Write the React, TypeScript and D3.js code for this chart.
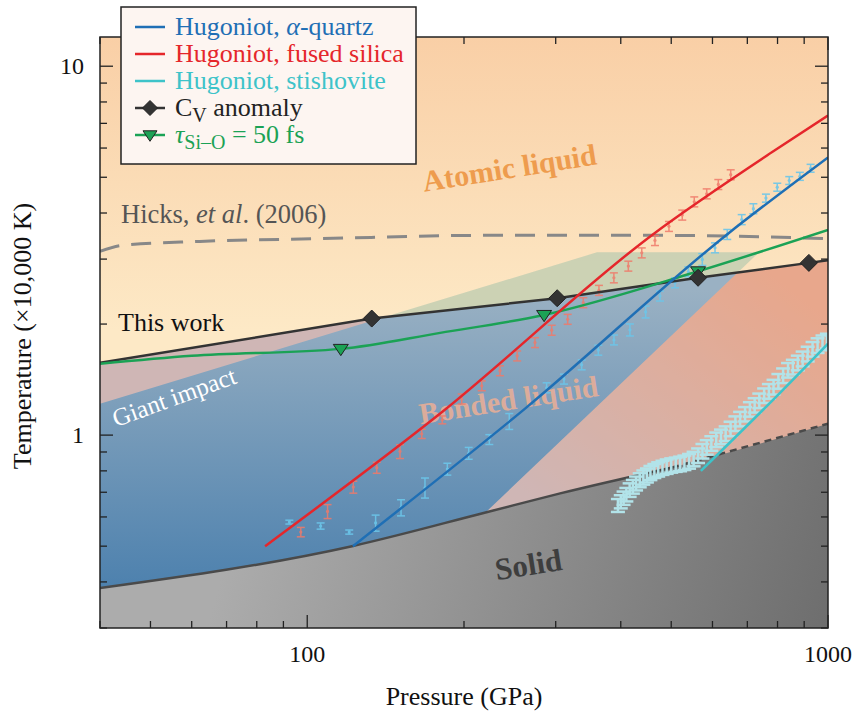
import React from 'react';
import * as d3 from 'd3';

// axis ranges: pressure (GPa), temperature (x10,000 K)
const pDomain = [40, 1000];
const tDomain = [0.3, 12];
const pTickLabels = [100, 1000];
const tTickLabels = [1, 10];

// Hugoniot curves
const quartzP = [122.4, 262, 640, 1000];
const quartzT = [0.5, 1.18, 3.5, 5.66];
const silicaP = [83, 180, 461, 784, 1000];
const silicaT = [0.5, 1.144, 3.5, 5.87, 7.35];
const stishP = [570, 808, 1000];
const stishT = [0.8, 1.3, 1.77];

// Cv anomaly ("This work")
const cvLineP = [40, 133, 302, 563, 919, 1000];
const cvLineT = [1.57, 2.07, 2.35, 2.67, 2.93, 2.98];
const cvMarkP = [133, 302, 563, 919];
const cvMarkT = [2.07, 2.35, 2.67, 2.93];

// tau(Si-O) = 50 fs
const tauLineP = [40, 60, 116, 180, 285, 563, 1000];
const tauLineT = [1.56, 1.64, 1.713, 1.893, 2.117, 2.78, 3.6];
const tauMarkP = [116, 285, 563];
const tauMarkT = [1.713, 2.117, 2.78];

// Hicks et al. (2006)
const hicksP = [40, 44.3, 62.2, 107, 224, 455, 1000];
const hicksT = [3.15, 3.27, 3.35, 3.41, 3.48, 3.48, 3.41];

// melting line (solid part, then dashed part)
const meltP = [40, 121.9, 220, 306, 502];
const meltT = [0.385, 0.5, 0.617, 0.695, 0.817];
const meltDashP = [502, 1000];
const meltDashT = [0.817, 1.074];

// giant impact region outline
const giantP = [40, 360, 737, 220, 220, 40];
const giantT = [1.217, 3.13, 3.13, 0.617, 0.3, 0.3];

// experimental data: fused silica
const silicaDataP = [97.2, 109.4, 122.6, 136, 150.7, 165.9, 181.7, 198, 216.3, 234.5, 253, 273.7, 294.7, 316.3, 338.9, 363.2, 388, 413.6, 438.9, 465.3, 495, 525, 553.6, 584.9, 615.7, 650.4];
const silicaDataT = [0.546, 0.621, 0.723, 0.816, 0.903, 1.008, 1.1, 1.253, 1.361, 1.495, 1.64, 1.782, 1.925, 2.061, 2.286, 2.469, 2.67, 2.872, 3.12, 3.37, 3.68, 3.95, 4.29, 4.51, 4.78, 5.08];
const silicaErr = [0.016, 0.027, 0.027, 0.028, 0.039, 0.029, 0.027, 0.039, 0.042, 0.046, 0.051, 0.055, 0.06, 0.064, 0.071, 0.077, 0.083, 0.089, 0.097, 0.105, 0.114, 0.123, 0.133, 0.14, 0.149, 0.158];

// experimental data: alpha-quartz
const quartzDataP = [92.4, 106.1, 120.4, 135.3, 151.4, 168.3, 185.8, 204.2, 223.7, 244.3, 288.2, 311.2, 336.5, 362.2, 388.1, 416.5, 446.5, 475.7, 508.4, 539.3, 573.6, 606.8, 640.5, 682.8, 718.9, 760, 799, 842.5, 883, 926];
const quartzDataT = [0.581, 0.567, 0.546, 0.578, 0.636, 0.72, 0.809, 0.893, 0.973, 1.09, 1.344, 1.419, 1.551, 1.7, 1.812, 1.929, 2.158, 2.383, 2.588, 2.772, 2.994, 3.22, 3.5, 3.84, 4.11, 4.39, 4.7, 4.9, 5.03, 5.29];
const quartzErr = [0.007, 0.011, 0.007, 0.029, 0.032, 0.045, 0.03, 0.033, 0.03, 0.054, 0.042, 0.044, 0.048, 0.053, 0.056, 0.072, 0.08, 0.074, 0.08, 0.086, 0.11, 0.1, 0.109, 0.12, 0.128, 0.11, 0.117, 0.12, 0.125, 0.13];

// experimental data: stishovite
const stishDataP = [395, 400, 405, 410, 416, 422, 428, 435, 442, 449, 456, 464, 472, 481, 490, 500, 510, 520, 530, 541, 552, 563, 574, 585, 597, 610, 623, 636, 650, 664, 678, 693, 708, 723, 738, 754, 770, 786, 803, 820, 838, 856, 875, 894, 914, 934, 955, 976, 995];
const stishDataT = [0.645, 0.66, 0.675, 0.69, 0.71, 0.725, 0.74, 0.755, 0.768, 0.778, 0.79, 0.8, 0.808, 0.816, 0.822, 0.828, 0.832, 0.836, 0.842, 0.85, 0.862, 0.88, 0.905, 0.927, 0.95, 0.972, 0.99, 1.01, 1.04, 1.075, 1.106, 1.14, 1.175, 1.205, 1.24, 1.28, 1.315, 1.35, 1.4, 1.45, 1.5, 1.53, 1.57, 1.61, 1.66, 1.71, 1.75, 1.78, 1.8];
const stishErr = [0.026, 0.027, 0.028, 0.029, 0.03, 0.031, 0.032, 0.033, 0.034, 0.034, 0.035, 0.035, 0.036, 0.036, 0.037, 0.037, 0.037, 0.038, 0.038, 0.039, 0.039, 0.04, 0.041, 0.042, 0.043, 0.044, 0.045, 0.046, 0.047, 0.049, 0.05, 0.051, 0.053, 0.054, 0.056, 0.058, 0.06, 0.062, 0.064, 0.066, 0.068, 0.07, 0.072, 0.074, 0.076, 0.078, 0.08, 0.082, 0.083];

const BLUE = '#1f6fb5';
const RED = '#e5262b';
const TEAL = '#3ec3c9';
const GREEN = '#1ba255';
const FONT = "'Liberation Serif', serif";

export default function App() {
  const left = 100, right = 828, top = 37, bottom = 628;
  const x = d3.scaleLog().domain(pDomain).range([left, right]);
  const y = d3.scaleLog().domain(tDomain).range([bottom, top]);

  const path = (P: number[], T: number[], curve: any = d3.curveLinear) =>
    d3.line<number>().x(i => x(P[i])).y(i => y(T[i])).curve(curve)(P.map((_, i) => i)) as string;

  const corners = (a: number, b: number) => `L${x(pDomain[1])},${y(a)}L${x(pDomain[0])},${y(b)}Z`;
  const belowCv = path(cvLineP, cvLineT) + corners(tDomain[0], tDomain[0]);
  const aboveCv = path(cvLineP, cvLineT) + corners(tDomain[1], tDomain[1]);
  const meltAllP = meltP.concat(meltDashP.slice(1));
  const meltAllT = meltT.concat(meltDashT.slice(1));
  const solidArea = path(meltAllP, meltAllT, d3.curveMonotoneX) + corners(tDomain[0], tDomain[0]);
  const giant = path(giantP, giantT) + 'Z';

  const xTicks = x.ticks();
  const yTicks = y.ticks();
  const isMajor = (v: number) => Math.abs(Math.log10(v) - Math.round(Math.log10(v))) < 1e-6;
  const tf = { fontFamily: FONT };

  const errorBars = (P: number[], T: number[], E: number[], color: string, cap: number, w: number, dot: boolean, op: number) => (
    <g stroke={color} strokeWidth={w} opacity={op} fill={color}>
      {P.map((p, i) => {
        const cx = x(p), y1 = y(T[i] - E[i]), y2 = y(T[i] + E[i]);
        return (
          <g key={i}>
            <line x1={cx} x2={cx} y1={y1} y2={y2} />
            <line x1={cx - cap / 2} x2={cx + cap / 2} y1={y1} y2={y1} />
            <line x1={cx - cap / 2} x2={cx + cap / 2} y1={y2} y2={y2} />
            {dot && <circle cx={cx} cy={y(T[i])} r={1.6} stroke="none" />}
          </g>
        );
      })}
    </g>
  );

  const diamond = (cx: number, cy: number, s: number, k: any) => (
    <path key={k} d={`M${cx},${cy - s}L${cx + s},${cy}L${cx},${cy + s}L${cx - s},${cy}Z`} fill="#333" stroke="#222" strokeWidth={1} />
  );
  const triangle = (cx: number, cy: number, s: number, k: any) => (
    <path key={k} d={`M${cx - s},${cy - s * 0.6}L${cx + s},${cy - s * 0.6}L${cx},${cy + s * 0.9}Z`} fill={GREEN} stroke="#222" strokeWidth={1} />
  );

  const legendRows = [
    { color: BLUE, kind: 'line' },
    { color: RED, kind: 'line' },
    { color: TEAL, kind: 'line' },
    { color: '#333', kind: 'diamond' },
    { color: GREEN, kind: 'triangle' },
  ];

  return (
    <svg width={855} height={713} style={{ position: 'absolute', left: 0, top: 0 }}>
      <defs>
        <linearGradient id="atomic" gradientUnits="userSpaceOnUse" x1={0} y1={top} x2={0} y2={330}>
          <stop offset="0" stopColor="#f9cfa6" />
          <stop offset="1" stopColor="#fde9c6" />
        </linearGradient>
        <linearGradient id="bonded" gradientUnits="userSpaceOnUse" x1={760} y1={265} x2={560} y2={520}>
          <stop offset="0" stopColor="#f1a583" />
          <stop offset="1" stopColor="#cbbcc2" />
        </linearGradient>
        <linearGradient id="impact" gradientUnits="userSpaceOnUse" x1={0} y1={600} x2={0} y2={290}>
          <stop offset="0" stopColor="#4a7fad" />
          <stop offset="1" stopColor="#9ab1c3" />
        </linearGradient>
        <linearGradient id="solid" gradientUnits="userSpaceOnUse" x1={250} y1={470} x2={828} y2={628}>
          <stop offset="0" stopColor="#acacac" />
          <stop offset="1" stopColor="#6e6e6e" />
        </linearGradient>
        <clipPath id="clipBelow"><path d={belowCv} /></clipPath>
        <clipPath id="clipAbove"><path d={aboveCv} /></clipPath>
        <clipPath id="plot"><rect x={left} y={top} width={right - left} height={bottom - top} /></clipPath>
      </defs>

      <g clipPath="url(#plot)">
        <rect x={left} y={top} width={right - left} height={bottom - top} fill="url(#atomic)" />
        <path d={belowCv} fill="url(#bonded)" />
        <path d={belowCv} fill="#d6ab9e" opacity={0.35} clipPath="url(#plot)" />
        <path d={giant} fill="url(#impact)" clipPath="url(#clipBelow)" />
        <path d={giant} fill="#c6cfb3" opacity={0.9} clipPath="url(#clipAbove)" />
        <path d={solidArea} fill="url(#solid)" />

        {/* region labels */}
        <text style={tf} x={511} y={178} textAnchor="middle" fontSize={30} fontWeight="bold" fill="#ee9c4e" transform="rotate(-9 511 178)">Atomic liquid</text>
        <text style={tf} x={510} y={410} textAnchor="middle" fontSize={30} fontWeight="bold" fill="#e6ae98" opacity={0.9} transform="rotate(-9 510 410)">Bonded liquid</text>
        <text style={tf} x={530} y={575} textAnchor="middle" fontSize={31} fontWeight="bold" fill="#3e3e3e" transform="rotate(-9 530 575)">Solid</text>
        <text style={tf} x={177} y={405} textAnchor="middle" fontSize={25} fill="#fff" transform="rotate(-20 177 405)">Giant impact</text>
        <text style={tf} x={118} y={331} fontSize={26} fill="#111">This work</text>
        <text style={tf} x={121} y={223} fontSize={26.5} fill="#555">Hicks, <tspan fontStyle="italic">et al</tspan>. (2006)</text>

        <path d={path(hicksP, hicksT, d3.curveMonotoneX)} fill="none" stroke="#888" strokeWidth={3} strokeDasharray="20 12" />
        <path d={path(meltP, meltT, d3.curveMonotoneX)} fill="none" stroke="#4a4a4a" strokeWidth={2.5} />
        <path d={path(meltDashP, meltDashT)} fill="none" stroke="#4a4a4a" strokeWidth={2.5} strokeDasharray="7 5" />

        {errorBars(stishDataP, stishDataT, stishErr, '#b2e3e9', 14, 2.5, false, 1)}
        {errorBars(silicaDataP, silicaDataT, silicaErr, '#f07a6a', 8, 1.5, true, 0.85)}
        {errorBars(quartzDataP, quartzDataT, quartzErr, '#6cc6ea', 8, 1.5, true, 0.9)}

        <path d={path(cvLineP, cvLineT)} fill="none" stroke="#333" strokeWidth={2.5} />
        <path d={path(tauLineP, tauLineT, d3.curveMonotoneX)} fill="none" stroke={GREEN} strokeWidth={2.5} />
        <path d={path(silicaP, silicaT, d3.curveMonotoneX)} fill="none" stroke={RED} strokeWidth={2.5} />
        <path d={path(quartzP, quartzT, d3.curveMonotoneX)} fill="none" stroke={BLUE} strokeWidth={2.5} />
        <path d={path(stishP, stishT, d3.curveMonotoneX)} fill="none" stroke={TEAL} strokeWidth={2.5} />

        {tauMarkP.map((p, i) => triangle(x(p), y(tauMarkT[i]), 7.5, i))}
        {cvMarkP.map((p, i) => diamond(x(p), y(cvMarkT[i]), 8.5, i))}
      </g>

      {/* frame and ticks */}
      <rect x={left} y={top} width={right - left} height={bottom - top} fill="none" stroke="#222" strokeWidth={1.5} />
      <g stroke="#222" strokeWidth={1.3}>
        {xTicks.map((v, i) => {
          const len = isMajor(v) ? 13 : 7;
          return (
            <g key={i}>
              <line x1={x(v)} x2={x(v)} y1={bottom} y2={bottom - len} />
              <line x1={x(v)} x2={x(v)} y1={top} y2={top + len} />
            </g>
          );
        })}
        {yTicks.map((v, i) => {
          const len = isMajor(v) ? 13 : 7;
          return (
            <g key={i}>
              <line x1={left} x2={left + len} y1={y(v)} y2={y(v)} />
              <line x1={right} x2={right - len} y1={y(v)} y2={y(v)} />
            </g>
          );
        })}
      </g>
      {pTickLabels.map(v => (
        <text style={tf} key={v} x={x(v)} y={662} textAnchor="middle" fontSize={24} fill="#111">{v}</text>
      ))}
      {tTickLabels.map(v => (
        <text style={tf} key={v} x={84} y={y(v) + 8} textAnchor="end" fontSize={24} fill="#111">{v}</text>
      ))}
      <text style={tf} x={464} y={705} textAnchor="middle" fontSize={26} fill="#111">Pressure (GPa)</text>
      <text style={tf} transform="translate(31 336) rotate(-90)" textAnchor="middle" fontSize={26} fill="#111">Temperature (×10,000 K)</text>

      {/* legend */}
      <g>
        <rect x={121} y={7} width={295} height={157} fill="#fdf5f1" stroke="#222" strokeWidth={1.5} />
        {legendRows.map((r, i) => {
          const cy = 27 + i * 27;
          return (
            <g key={i}>
              <line x1={135} x2={165} y1={cy} y2={cy} stroke={r.color} strokeWidth={2.5} />
              {r.kind === 'diamond' && diamond(150, cy, 7.5, 'd')}
              {r.kind === 'triangle' && triangle(150, cy, 7, 't')}
            </g>
          );
        })}
        <g fontSize={26}>
          <text style={tf} x={175} y={35} fill={BLUE}>Hugoniot, <tspan fontStyle="italic">α</tspan>-quartz</text>
          <text style={tf} x={175} y={62} fill={RED}>Hugoniot, fused silica</text>
          <text style={tf} x={175} y={89} fill={TEAL}>Hugoniot, stishovite</text>
          <text style={tf} x={175} y={116} fill="#222">C<tspan dy={6} fontSize={20}>V</tspan><tspan dy={-6}> anomaly</tspan></text>
          <text style={tf} x={175} y={143} fill={GREEN}><tspan fontStyle="italic">τ</tspan><tspan dy={6} fontSize={20}>Si–O</tspan><tspan dy={-6}> = 50 fs</tspan></text>
        </g>
      </g>
    </svg>
  );
}
